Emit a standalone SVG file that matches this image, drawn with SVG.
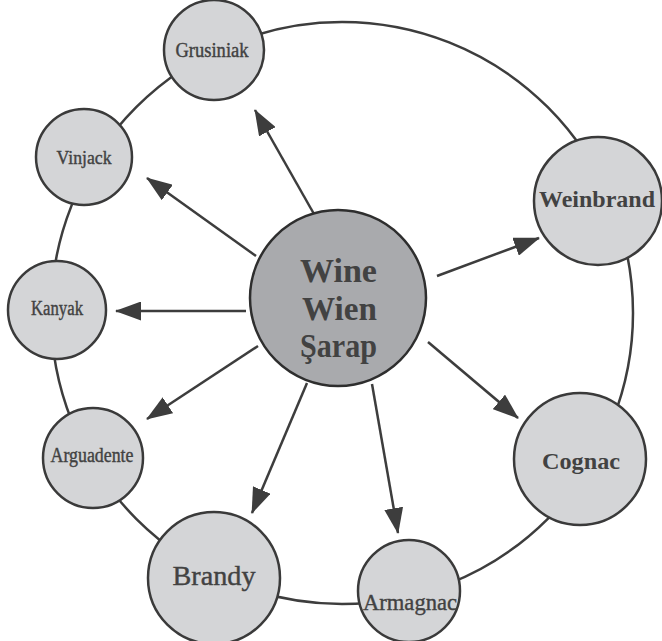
<svg xmlns="http://www.w3.org/2000/svg" width="662" height="641" viewBox="0 0 662 641">
<style>
.ring{fill:none;stroke:#3d3d3d;stroke-width:2.5}
.edge{fill:none;stroke:#3d3d3d;stroke-width:2.5;marker-end:url(#ah)}
.n{fill:#d4d5d7;stroke:#3a3a3a;stroke-width:2.5}
.c{fill:#a9aaad;stroke:#2e2e2e;stroke-width:2.5}
text{font-family:"Liberation Serif","DejaVu Serif",serif;fill:#424242;text-anchor:middle}
.r{stroke:#424242;stroke-width:0.4}
.b{font-weight:bold}
</style>
<defs>
<marker id="ah" markerUnits="userSpaceOnUse" markerWidth="27" markerHeight="19" refX="25" refY="9.5" orient="auto">
<path d="M0,0 L26,9.5 L0,19 z" fill="#3d3d3d"/>
</marker>
</defs>
<rect width="662" height="641" fill="#fff"/>
<g id="connectors">
<circle class="ring" cx="342" cy="313" r="291"/>
<line class="edge" x1="314" y1="214" x2="255" y2="110"/>
<line class="edge" x1="256" y1="256" x2="147" y2="178"/>
<line class="edge" x1="246" y1="311" x2="116" y2="311"/>
<line class="edge" x1="258" y1="346" x2="147" y2="419"/>
<line class="edge" x1="307" y1="383" x2="252" y2="513"/>
<line class="edge" x1="372" y1="384" x2="398" y2="533"/>
<line class="edge" x1="428" y1="342" x2="518" y2="418"/>
<line class="edge" x1="437" y1="276" x2="539" y2="238"/>
</g>
<g id="n-grusiniak"><circle class="n" cx="214" cy="50" r="50"/><text class="r" x="212" y="57" font-size="20" textLength="73" lengthAdjust="spacingAndGlyphs">Grusiniak</text></g>
<g id="n-vinjack"><circle class="n" cx="84" cy="157" r="48"/><text class="r" x="84" y="164" font-size="19" textLength="55" lengthAdjust="spacingAndGlyphs">Vinjack</text></g>
<g id="n-kanyak"><circle class="n" cx="57" cy="310" r="49"/><text class="r" x="57" y="315" font-size="20" textLength="52" lengthAdjust="spacingAndGlyphs">Kanyak</text></g>
<g id="n-arguadente"><circle class="n" cx="93" cy="458" r="50"/><text class="r" x="92" y="462" font-size="20" textLength="83" lengthAdjust="spacingAndGlyphs">Arguadente</text></g>
<g id="n-brandy"><circle class="n" cx="214" cy="578" r="66"/><text class="r" x="214" y="585" font-size="27" textLength="83" lengthAdjust="spacingAndGlyphs">Brandy</text></g>
<g id="n-armagnac"><circle class="n" cx="409" cy="591" r="51"/><text class="r" x="410" y="610" font-size="23" textLength="94" lengthAdjust="spacingAndGlyphs">Armagnac</text></g>
<g id="n-cognac"><circle class="n" cx="580" cy="459" r="66"/><text class="b" x="581" y="469" font-size="24" textLength="78" lengthAdjust="spacingAndGlyphs">Cognac</text></g>
<g id="n-weinbrand"><circle class="n" cx="598" cy="201" r="64"/><text class="b" x="597" y="207" font-size="23" textLength="116" lengthAdjust="spacingAndGlyphs">Weinbrand</text></g>
<g id="n-center"><circle class="c" cx="338" cy="298" r="88"/>
<text class="b" x="338.5" y="282" font-size="34" textLength="77" lengthAdjust="spacingAndGlyphs">Wine</text>
<text class="b" x="339.5" y="320" font-size="34" textLength="75" lengthAdjust="spacingAndGlyphs">Wien</text>
<text class="b" x="338.5" y="357" font-size="34" textLength="77" lengthAdjust="spacingAndGlyphs">Şarap</text>
</g>
</svg>
